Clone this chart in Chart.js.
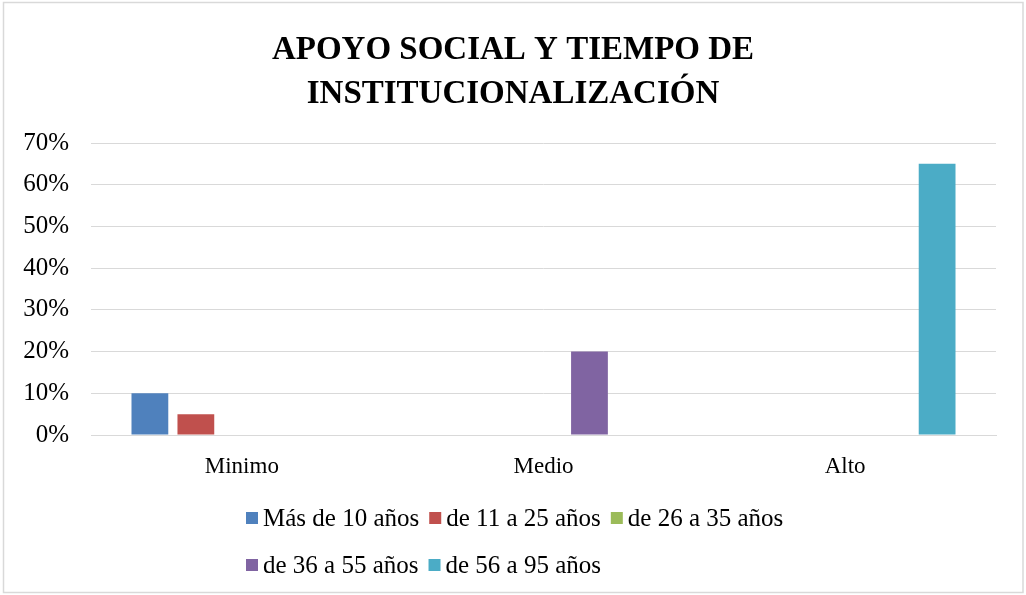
<!DOCTYPE html>
<html>
<head>
<meta charset="utf-8">
<script src="https://cdn.jsdelivr.net/npm/chart.js@4/dist/chart.umd.min.js"></script>
<style>
html,body{margin:0;padding:0;background:#fff;}
#wrap{width:1026px;height:595px;position:relative;}
</style>
</head>
<body>
<div id="wrap"><canvas id="c" width="1026" height="595"></canvas></div>
<script>
const titleLines = ['APOYO SOCIAL Y TIEMPO DE', 'INSTITUCIONALIZACIÓN'];
const categories = ['Minimo', 'Medio', 'Alto'];
const seriesNames = ['Más de 10 años', 'de 11 a 25 años', 'de 26 a 35 años', 'de 36 a 55 años', 'de 56 a 95 años'];
const seriesColors = ['#4F81BD', '#C0504D', '#9BBB59', '#8064A2', '#4BACC6'];
const serie1 = [0.10, 0, 0];
const serie2 = [0.05, 0, 0];
const serie3 = [0, 0, 0];
const serie4 = [0, 0.20, 0];
const serie5 = [0, 0, 0.65];
const yTicks = [0, 0.1, 0.2, 0.3, 0.4, 0.5, 0.6, 0.7];

const allSeries = [serie1, serie2, serie3, serie4, serie5];
const FONT = "'Liberation Serif', 'DejaVu Serif', serif";

const frame = {
  id: 'frame',
  beforeDraw(chart) {
    const ctx = chart.ctx;
    ctx.save();
    ctx.fillStyle = '#fff';
    ctx.fillRect(0, 0, chart.width, chart.height);
    ctx.strokeStyle = '#d9d9d9';
    ctx.lineWidth = 1.5;
    ctx.strokeRect(3.5, 2.5, 1019.5, 590);
    ctx.restore();
  }
};

const customLegend = {
  id: 'customLegend',
  afterDraw(chart) {
    const ctx = chart.ctx;
    ctx.save();
    ctx.font = '25px ' + FONT;
    ctx.textBaseline = 'middle';
    ctx.textAlign = 'left';
    const box = 12, gapText = 5, gapItem = 10;
    const rows = [[0, 1, 2], [3, 4]];
    const rowY = [518, 565];
    const items = chart.data.datasets.map((d, i) => ({
      label: d.label, color: d.backgroundColor,
      w: box + gapText + ctx.measureText(d.label).width
    }));
    const rowW = rows.map(r => r.reduce((s, i, k) => s + items[i].w + (k ? gapItem : 0), 0));
    const maxW = Math.max(...rowW);
    const x0 = Math.round((chart.width - maxW) / 2) + 2;
    rows.forEach((r, ri) => {
      let x = x0;
      r.forEach(i => {
        const it = items[i];
        ctx.fillStyle = it.color;
        ctx.fillRect(x, rowY[ri] - box / 2, box, box);
        ctx.fillStyle = '#000';
        ctx.fillText(it.label, x + box + gapText, rowY[ri] + 1);
        x += it.w + gapItem;
      });
    });
    ctx.restore();
  }
};

new Chart(document.getElementById('c'), {
  type: 'bar',
  data: {
    labels: categories,
    datasets: seriesNames.map((n, i) => ({
      label: n,
      data: allSeries[i],
      backgroundColor: seriesColors[i],
      borderWidth: 0,
      categoryPercentage: 0.762,
      barPercentage: 0.8
    }))
  },
  options: {
    responsive: false,
    animation: false,
    devicePixelRatio: 1,
    layout: { padding: 0 },
    plugins: {
      legend: { display: false },
      tooltip: { enabled: false },
      title: {
        display: true,
        text: titleLines,
        color: '#000',
        font: { family: FONT, size: 33, weight: 'bold', lineHeight: 44 / 33 },
        padding: { top: 28, bottom: 27 }
      }
    },
    scales: {
      x: {
        grid: { display: false, drawTicks: false },
        border: { display: true, color: '#d9d9d9', width: 1 },
        ticks: { color: '#000', font: { family: FONT, size: 23 }, padding: 18 },
        afterFit(scale) { scale.height = 160; }
      },
      y: {
        min: 0, max: 0.7,
        afterBuildTicks(scale) { scale.ticks = yTicks.map(v => ({ value: v })); },
        grid: { color: '#d9d9d9', lineWidth: 1, drawTicks: false },
        border: { display: false },
        ticks: {
          color: '#000', font: { family: FONT, size: 25 }, padding: 22,
          callback: v => Math.round(v * 100) + '%'
        },
        afterFit(scale) { scale.width = 91; }
      },
      yRight: {
        position: 'right',
        display: true,
        grid: { display: false, drawTicks: false },
        border: { display: false },
        ticks: { display: false },
        afterFit(scale) { scale.width = 30; }
      }
    }
  },
  plugins: [frame, customLegend]
});
</script>
</body>
</html>
